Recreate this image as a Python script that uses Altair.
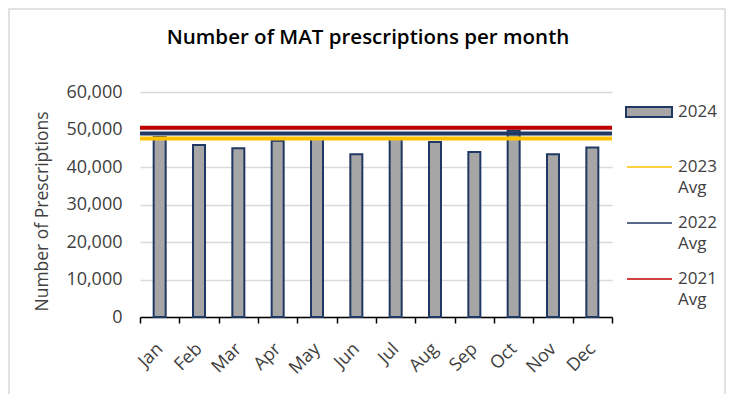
import altair as alt
import pandas as pd

months = ["Jan", "Feb", "Mar", "Apr", "May", "Jun", "Jul", "Aug", "Sep", "Oct", "Nov", "Dec"]
rx_2024 = [48000, 45900, 45000, 47000, 47500, 43400, 47500, 46700, 44000, 49700, 43400, 45200]
avg_labels = ["2023 Avg", "2022 Avg", "2021 Avg"]
avg_values = [47600, 48950, 50450]
avg_colors = ["#FFC000", "#203864", "#C00000"]
y_ticks = [0, 10000, 20000, 30000, 40000, 50000, 60000]

FONT = "Open Sans"
W, H = 472, 225
GRAY = "#404040"

bar_df = pd.DataFrame({"month": months, "value": rx_2024})
avg_df = pd.DataFrame({"label": avg_labels, "value": avg_values})

x_enc = alt.X(
    "month:N", sort=months, title=None,
    scale=alt.Scale(paddingInner=0, paddingOuter=0),
    axis=alt.Axis(labelAngle=-45, labelAlign="right", labelBaseline="middle",
                  labelFontSize=18, labelColor=GRAY, labelFont=FONT, labelPadding=23,
                  labelOverlap=False,
                  tickBand="extent", tickSize=6, tickColor="black", tickWidth=1.5,
                  domainColor="black", domainWidth=1.5, grid=False),
)
y_scale = alt.Scale(domain=[0, 60000], nice=False)
y_axis = alt.Axis(values=y_ticks, format=",.0f", labelFontSize=18, labelColor=GRAY,
                  labelFont=FONT, labelOverlap=False, ticks=False, tickSize=0,
                  labelPadding=18, domain=False,
                  grid=True, gridColor="#D9D9D9", gridWidth=1.5,
                  title="Number of Prescriptions", titleFont=FONT, titleFontSize=17.5,
                  titleFontWeight="normal", titleColor=GRAY, titleAngle=-90,
                  titleX=-98, titleY=119, titleAlign="center", titleBaseline="middle")

bars = alt.Chart(bar_df).mark_bar(size=12, fill="#A6A6A6", stroke="#203864", strokeWidth=2).encode(
    x=x_enc,
    y=alt.Y("value:Q", scale=y_scale, axis=y_axis),
)

rules = alt.Chart(avg_df).mark_rule(strokeWidth=4).encode(
    y=alt.Y("value:Q", scale=y_scale, axis=y_axis),
    color=alt.Color("label:N", scale=alt.Scale(domain=avg_labels, range=avg_colors), legend=None),
)

one = pd.DataFrame({"k": [0]})

title = alt.Chart(one).mark_text(
    text="Number of MAT prescriptions per month", font=FONT, fontSize=20.5, fontWeight=600,
    color="black", align="center", baseline="middle",
).encode(x=alt.value(W / 2 - 8), y=alt.value(-54))

border = alt.Chart(one).mark_rect(fill="transparent", stroke="#D9D9D9", strokeWidth=1.5).encode(
    x=alt.value(-131), x2=alt.value(585), y=alt.value(-83), y2=alt.value(H + 90))

legend_layers = [
    alt.Chart(one).mark_rect(fill="#A6A6A6", stroke="#203864", strokeWidth=2).encode(
        x=alt.value(486), x2=alt.value(532), y=alt.value(15), y2=alt.value(25)),
    alt.Chart(one).mark_text(text="2024", font=FONT, fontSize=17, color=GRAY, align="left",
                             baseline="middle").encode(x=alt.value(538), y=alt.value(20)),
]
for i, (lab, col) in enumerate(zip(avg_labels, avg_colors)):
    yy = 75 + i * 56
    legend_layers.append(
        alt.Chart(one).mark_rule(color=col, strokeWidth=1.5).encode(
            x=alt.value(487), x2=alt.value(532), y=alt.value(yy)))
    legend_layers.append(
        alt.Chart(one).mark_text(text=lab.replace(" ", "\n"), lineBreak="\n", lineHeight=21,
                                 font=FONT, fontSize=17, color=GRAY, align="left",
                                 baseline="middle").encode(x=alt.value(538), y=alt.value(yy)))

chart = alt.layer(border, bars, rules, title, *legend_layers).properties(
    width=W, height=H,
    autosize=alt.AutoSizeParams(type="none"),
    padding={"left": 132, "top": 84, "right": 115, "bottom": 77},
    background="white",
).configure_view(stroke=None)

chart.save("out.html", embed_options={"renderer": "svg", "actions": False})
